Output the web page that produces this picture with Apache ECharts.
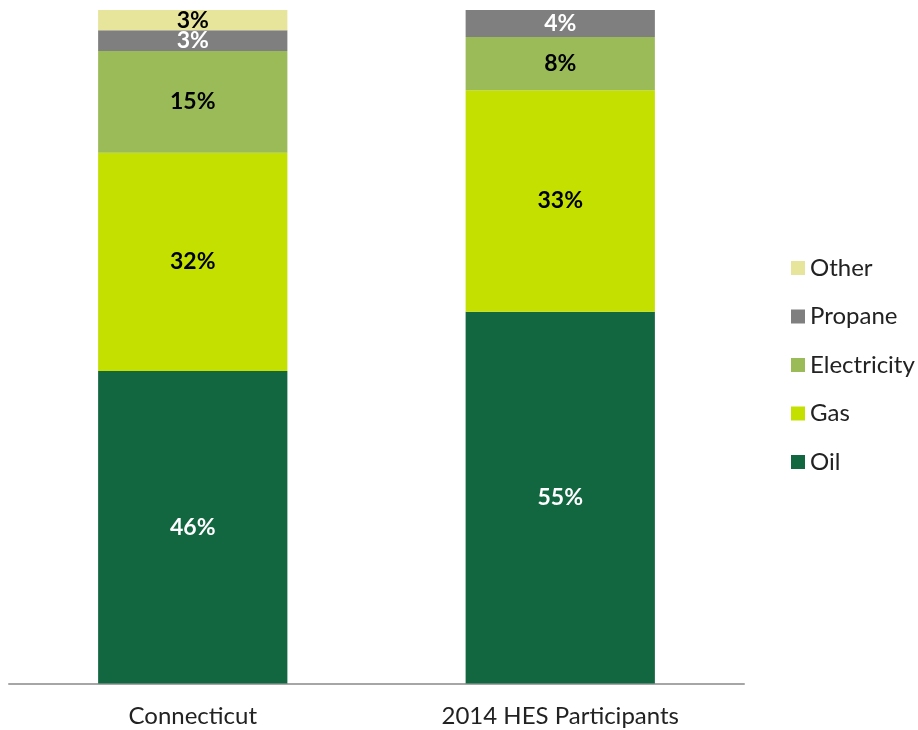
<!DOCTYPE html>
<html>
<head>
<meta charset="utf-8">
<script src="https://cdn.jsdelivr.net/npm/echarts@6/dist/echarts.min.js"></script>
<style>
  html, body { margin: 0; padding: 0; background: #fff; }
  #chart { width: 918px; height: 730px; }
</style>
</head>
<body>
<div id="chart"></div>
<script>
// categories and share of each fuel (%)
var categories = ["Connecticut", "2014 HES Participants"];
var oil = [46.4, 55.2];
var gas = [32.4, 32.9];
var electricity = [15.1, 7.9];
var propane = [3.1, 4.0];
var other = [3.0, 0];
var legendOrder = ["Other", "Propane", "Electricity", "Gas", "Oil"];

var font = "Lato";

function makeSeries(name, data, color, labelColor) {
  return {
    name: name,
    type: "bar",
    stack: "total",
    barWidth: "51.5%",
    data: data,
    itemStyle: { color: color },
    label: {
      show: true,
      position: "inside",
      color: labelColor,
      fontFamily: font,
      fontWeight: "bold",
      fontSize: 23,
      formatter: function(p) {
        if (!p.value) return "";
        return Math.round(p.value) + "%";
      }
    }
  };
}

var chart = echarts.init(document.getElementById("chart"));
chart.setOption({
  animation: false,
  grid: {
    left: 9,
    right: 174,
    top: 10,
    bottom: 46.5,
    containLabel: false
  },
  legend: {
    orient: "vertical",
    left: 786,
    top: 251,
    itemWidth: 14,
    itemHeight: 14,
    itemGap: 24.5,
    icon: "rect",
    data: legendOrder,
    textStyle: { fontFamily: font, fontSize: 24, color: "#222" }
  },
  xAxis: {
    type: "category",
    data: categories,
    axisTick: { show: false },
    axisLine: { lineStyle: { color: "#a6a6a6", width: 2 } },
    axisLabel: { fontFamily: font, fontSize: 24, color: "#222", margin: 21 }
  },
  yAxis: {
    type: "value",
    min: 0,
    max: 100,
    show: false
  },
  series: [
    makeSeries("Oil", oil, "#126640", "#fff"),
    makeSeries("Gas", gas, "#c3e000", "#000"),
    makeSeries("Electricity", electricity, "#9bbb59", "#000"),
    makeSeries("Propane", propane, "#7f7f7f", "#fff"),
    makeSeries("Other", other, "#e7e49b", "#000")
  ]
});
</script>
</body>
</html>
